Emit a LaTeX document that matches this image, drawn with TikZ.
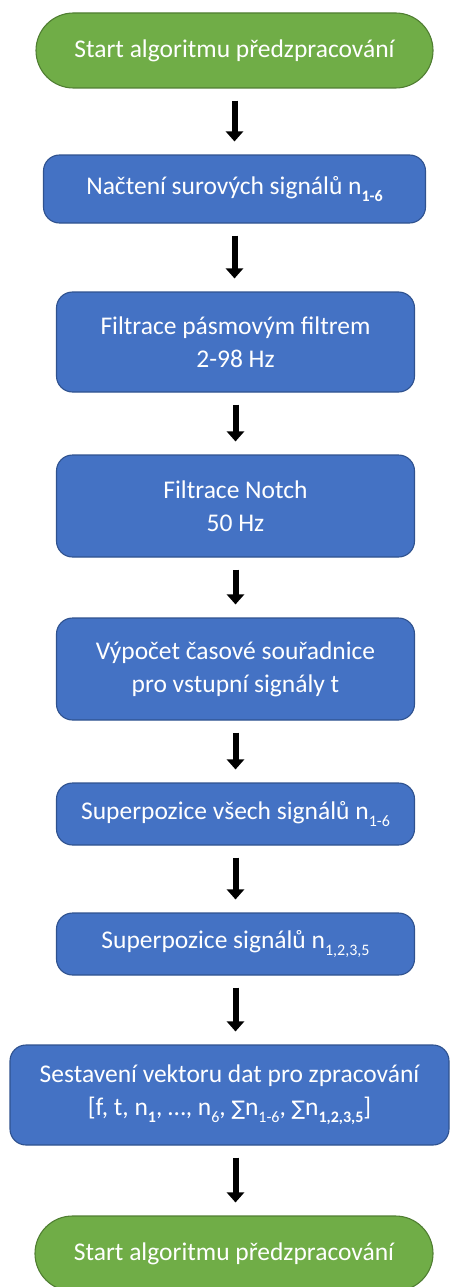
\documentclass[tikz,border=0pt]{standalone}
\usepackage{fontspec}
\setmainfont{Carlito}
\newfontfamily\djv{DejaVu Sans}
\usetikzlibrary{arrows.meta,shapes.misc}
\definecolor{offgreen}{HTML}{70AD47}
\definecolor{offgreenD}{HTML}{507E32}
\definecolor{offblue}{HTML}{4472C4}
\definecolor{offblueD}{HTML}{2F528F}
\newcommand\lowi[1]{\raisebox{-0.28em}{\fontsize{16}{16}\selectfont #1}}
\newcommand\sumsym{{\djv\fontsize{20}{20}\selectfont ∑}}
\tikzset{
  termbox/.style={rounded rectangle, fill=offgreen, draw=offgreenD, line width=1.1pt,
    text=white, font=\fontsize{25.5}{33}\selectfont, align=center, inner sep=0pt},
  procbox/.style={rectangle, rounded corners=16pt, fill=offblue, draw=offblueD, line width=1.1pt,
    text=white, font=\fontsize{25.5}{33}\selectfont, align=center, inner sep=0pt},
  flowarrow/.style={line width=6pt, black, -{Triangle[width=17pt,length=10pt]},
    shorten <=12pt, shorten >=13pt}
}
\begin{document}
\begin{tikzpicture}[x=1pt,y=-1pt]
\useasboundingbox (0,0) rectangle (451,1287);
\node[termbox, minimum width=397pt, minimum height=75pt] (start) at (234.5,50.5) {Start algoritmu předzpracování};
\node[procbox, minimum width=382pt, minimum height=68pt] (load) at (234.5,189) {Načtení surových signálů n\lowi{\textbf{1-6}}};
\node[procbox, minimum width=358pt, minimum height=100pt] (band) at (235.5,342) {Filtrace pásmovým filtrem\\2-98 Hz};
\node[procbox, minimum width=358pt, minimum height=102pt] (notch) at (235.5,506) {Filtrace Notch\\50 Hz};
\node[procbox, minimum width=358pt, minimum height=102pt] (time) at (235.5,669) {Výpočet časové souřadnice\\pro vstupní signály t};
\node[procbox, minimum width=358pt, minimum height=62pt] (supall) at (235.5,814) {Superpozice všech signálů n\lowi{1-6}};
\node[procbox, minimum width=358pt, minimum height=62pt] (supsel) at (235.5,944) {Superpozice signálů n\lowi{1,2,3,5}};
\node[procbox, minimum width=439pt, minimum height=100pt] (vec) at (229.5,1095) {Sestavení vektoru dat pro zpracování\\{}[f, t, n\lowi{\textbf{1}}, …, n\lowi{6}, \sumsym n\lowi{1-6}, \sumsym n\lowi{\textbf{1,2,3,5}}]};
\node[termbox, minimum width=398pt, minimum height=75pt] (stop) at (234,1253.5) {Start algoritmu předzpracování};
\draw[flowarrow] (start.south) -- (start.south |- load.north);
\draw[flowarrow] (load.south) -- (load.south |- band.north);
\draw[flowarrow] (band.south) -- (band.south |- notch.north);
\draw[flowarrow] (notch.south) -- (notch.south |- time.north);
\draw[flowarrow] (time.south) -- (time.south |- supall.north);
\draw[flowarrow] (supall.south) -- (supall.south |- supsel.north);
\draw[flowarrow] (supsel.south) -- (supsel.south |- vec.north);
\draw[flowarrow] (supsel.south |- vec.south) -- (supsel.south |- stop.north);
\end{tikzpicture}
\end{document}
